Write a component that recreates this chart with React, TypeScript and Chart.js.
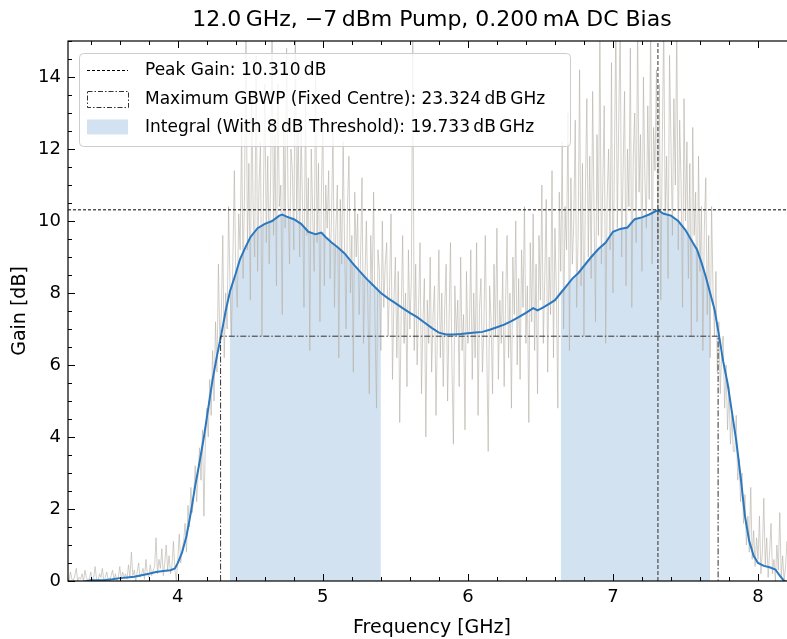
import React, { useEffect, useRef } from 'react';
import { Chart, registerables } from 'chart.js';

Chart.register(...registerables);

// ---------- data ----------
const X_MIN = 3.243;
const X_MAX = 8.262;
const Y_MIN = 0;
const Y_MAX = 15;

// raw (noisy) measured gain, uniform sweep
const RAW_START = 3.24;
const RAW_STEP = 0.01;
const rawGain = [
  // 3.24
  0.1, 0.0, 0.25, 0.05, 0.0, 0.15, 0.35, 0.0, 0.1, 0.05, 0.2, 0.0, 0.3, 0.1, 0.0, 0.05, 0.25, 0.0, 0.1, 0.4,
  // 3.44
  0.05, 0.0, 0.2, 0.1, 0.35, 0.0, 0.1, 0.25, 0.05, 0.0, 0.15, 0.3, 0.05, 0.2, 0.0, 0.1, 0.4, 0.05, 0.25, 0.1,
  // 3.64
  0.2, 0.05, 0.45, 0.1, 0.8, 0.15, 0.3, 0.0, 0.25, 0.5, 0.1, 0.2, 0.35, 0.05, 0.6, 0.2, 0.1, 0.45, 0.15, 0.3,
  // 3.84
  0.4, 1.2, 0.2, 0.6, 0.35, 0.9, 0.15, 0.5, 1.0, 0.3, 0.7, 0.2, 0.45, 1.1, 0.3, 0.0, 0.6, 1.3, 0.5, 0.9,
  // 4.04
  1.1, 1.6, 0.8, 2.1, 1.5, 2.6, 1.9, 2.4, 3.2, 2.2, 3.0, 3.7, 2.8, 4.2, 1.8, 3.9, 4.8, 4.0, 5.6, 4.6,
  // 4.24
  6.4, 5.0, 7.2, 5.8, 8.8, 6.6, 7.4, 9.6, 6.2, 8.0, 7.0, 10.4, 8.2, 6.8, 9.0, 11.4, 8.4, 7.6, 10.2, 9.2,
  // 4.44
  12.6, 8.4, 10.8, 15.5, 9.2, 11.6, 7.8, 13.4, 10.2, 9.0, 14.6, 8.6, 11.0, 12.2, 6.8, 10.6, 13.8, 9.4, 11.8, 8.8,
  // 4.64
  11.2, 15.5, 9.6, 12.4, 8.2, 13.8, 10.4, 11.0, 7.4, 12.8, 9.8, 14.8, 10.6, 8.8, 12.0, 11.4, 9.2, 15.5, 10.0, 12.6,
  // 4.84
  9.0, 12.6, 10.4, 7.6, 13.4, 9.6, 11.2, 6.4, 12.0, 10.2, 8.6, 14.2, 9.4, 11.6, 7.2, 10.8, 12.8, 8.2, 11.0, 9.8,
  // 5.04
  11.4, 8.4, 10.2, 12.6, 7.6, 9.8, 11.0, 6.2, 10.6, 8.8, 12.2, 9.2, 7.0, 10.4, 11.8, 8.0, 9.6, 5.8, 10.8, 9.0,
  // 5.24
  10.2, 7.4, 9.0, 11.2, 6.6, 8.4, 10.0, 7.8, 5.2, 9.6, 8.2, 10.8, 7.0, 4.8, 9.2, 8.6, 6.4, 10.0, 7.6, 8.8,
  // 5.44
  9.4, 6.8, 8.2, 10.2, 5.6, 7.8, 9.0, 6.2, 8.6, 4.4, 7.4, 9.6, 6.6, 8.0, 5.4, 9.2, 7.0, 8.4, 15.2, 6.4,
  // 5.64
  8.8, 6.0, 7.6, 9.4, 5.2, 7.2, 8.4, 4.0, 7.8, 6.6, 9.0, 5.8, 7.4, 8.2, 4.6, 7.0, 9.2, 6.2, 8.0, 5.4,
  // 5.84
  7.6, 8.8, 5.0, 7.2, 9.4, 6.0, 3.8, 8.2, 6.8, 7.8, 5.4, 9.0, 6.4, 7.4, 4.2, 8.6, 6.6, 7.0, 9.2, 5.6,
  // 6.04
  8.0, 6.2, 9.4, 4.6, 7.6, 8.4, 5.8, 7.0, 9.6, 6.4, 3.6, 8.2, 7.2, 5.2, 8.8, 6.8, 9.8, 5.6, 7.8, 6.6,
  // 6.24
  8.6, 5.4, 7.8, 9.6, 6.2, 8.0, 4.8, 9.0, 7.4, 10.0, 6.0, 8.4, 5.6, 9.2, 7.6, 10.4, 6.6, 8.2, 4.4, 9.4,
  // 6.44
  7.2, 10.2, 6.4, 8.8, 5.2, 9.6, 7.8, 11.0, 6.6, 8.4, 10.6, 5.8, 9.0, 7.4, 11.4, 6.2, 9.8, 8.0, 4.8, 10.8,
  // 6.64
  8.6, 12.2, 7.0, 10.4, 9.2, 13.0, 6.4, 11.2, 8.8, 10.0, 12.8, 7.6, 9.6, 14.2, 8.2, 11.6, 6.8, 10.8, 13.4, 9.0,
  // 6.84
  11.8, 8.4, 13.6, 10.2, 7.2, 12.4, 9.6, 15.5, 8.8, 11.0, 13.2, 6.6, 10.6, 12.0, 9.2, 14.4, 8.0, 11.6, 15.5, 9.8,
  // 7.04
  12.8, 15.5, 9.0, 11.4, 13.6, 8.2, 12.0, 10.4, 14.8, 7.6, 11.8, 13.0, 9.4, 15.5, 10.8, 12.4, 8.6, 14.0, 11.2, 9.8,
  // 7.24
  13.2, 10.6, 15.5, 8.8, 12.6, 11.4, 14.2, 9.4, 13.8, 7.8, 12.0, 15.5, 10.2, 11.8, 8.4, 14.6, 12.2, 9.6, 13.4, 11.0,
  // 7.44
  15.5, 9.2, 12.8, 11.0, 7.6, 13.4, 10.0, 12.2, 8.4, 11.6, 6.8, 12.6, 9.6, 10.8, 7.2, 11.8, 8.6, 10.4, 6.4, 9.8,
  // 7.64
  11.2, 7.4, 9.6, 6.2, 10.4, 8.0, 6.8, 8.6, 5.8, 7.2, 5.2, 6.4, 6.8, 4.8, 6.0, 4.2, 5.4, 3.8, 4.6, 3.6,
  // 7.84
  3.6, 4.6, 2.8, 3.4, 2.2, 3.0, 1.6, 2.4, 1.0, 1.8, 0.8, 2.6, 0.6, 1.4, 0.4, 1.2, 0.6, 1.8, 0.2, 0.8,
  // 8.04
  2.3, 0.4, 1.2, 0.1, 0.8, 1.6, 0.2, 0.6, 0.0, 1.0, 0.3, 1.9, 0.1, 0.7, 0.0, 0.4, 1.1, 0.0, 0.5, 0.2,
  // 8.24
  0.6, 0.0, 0.3,
];

// smoothed gain
const smoothFreq = [
  3.24, 3.35, 3.4, 3.45, 3.5, 3.55, 3.6, 3.65, 3.7, 3.75, 3.8, 3.85, 3.9, 3.95, 3.98,
  4.0, 4.03, 4.06, 4.09, 4.12, 4.15, 4.18, 4.21, 4.24, 4.27, 4.3, 4.33, 4.36, 4.4, 4.43,
  4.47, 4.5, 4.55, 4.6, 4.65, 4.7, 4.72, 4.75, 4.8, 4.85, 4.9, 4.95, 4.99, 5.02, 5.06,
  5.1, 5.15, 5.2, 5.25, 5.3, 5.35, 5.4, 5.45, 5.5, 5.55, 5.6, 5.65, 5.7, 5.75, 5.8,
  5.85, 5.9, 5.95, 6.0, 6.05, 6.1, 6.15, 6.2, 6.25, 6.3, 6.35, 6.4, 6.45, 6.48, 6.52,
  6.56, 6.6, 6.64, 6.68, 6.72, 6.76, 6.8, 6.85, 6.9, 6.95, 7.0, 7.05, 7.1, 7.15, 7.2,
  7.25, 7.31, 7.35, 7.4, 7.45, 7.5, 7.55, 7.58, 7.61, 7.64, 7.67, 7.7, 7.73, 7.76, 7.79,
  7.82, 7.85, 7.88, 7.91, 7.94, 7.97, 8.0, 8.04, 8.08, 8.12, 8.15, 8.18, 8.22, 8.26,
];
const smoothGain = [
  -0.1, -0.02, 0.02, 0.02, 0.03, 0.05, 0.08, 0.1, 0.12, 0.16, 0.2, 0.25, 0.28, 0.3, 0.35,
  0.5, 0.8, 1.25, 1.9, 2.65, 3.3, 4.0, 4.8, 5.6, 6.25, 6.85, 7.5, 8.05, 8.55, 8.95,
  9.3, 9.55, 9.8, 9.92, 10.0, 10.15, 10.18, 10.12, 10.05, 9.92, 9.7, 9.63, 9.68, 9.55, 9.4,
  9.28, 9.1, 8.85, 8.62, 8.4, 8.2, 8.0, 7.85, 7.72, 7.58, 7.45, 7.33, 7.18, 7.03, 6.9,
  6.85, 6.85, 6.86, 6.88, 6.9, 6.92, 6.98, 7.05, 7.12, 7.22, 7.33, 7.45, 7.58, 7.52, 7.6,
  7.7, 7.8, 8.0, 8.2, 8.4, 8.55, 8.75, 9.0, 9.22, 9.4, 9.7, 9.78, 9.82, 10.05, 10.1,
  10.18, 10.3, 10.2, 10.15, 10.0, 9.75, 9.4, 9.2, 8.85, 8.45, 8.0, 7.55, 6.85, 6.1, 5.5,
  4.7, 3.9, 2.9, 1.8, 1.1, 0.7, 0.5, 0.42, 0.38, 0.32, 0.15, 0.0, -0.05, -0.08,
];

const PEAK_GAIN = 10.31;
const PEAK_FREQ = 7.31;
const GBWP_LOW = 4.295;
const GBWP_HIGH = 7.725;
const GBWP_LEVEL = 6.8;
const THRESHOLD = 8;

const TITLE = '12.0\u2009GHz, \u22127\u2009dBm Pump, 0.200\u2009mA DC Bias';
const X_LABEL = 'Frequency [GHz]';
const Y_LABEL = 'Gain [dB]';
const LEGEND_LABELS = [
  'Peak Gain: 10.310\u2009dB',
  'Maximum GBWP (Fixed Centre): 23.324\u2009dB\u2009GHz',
  'Integral (With 8\u2009dB Threshold): 19.733\u2009dB\u2009GHz',
];

// ---------- styles ----------
const FONT = '"DejaVu Sans", sans-serif';
const BLUE = '#2b78c0';
const FILL = '#d3e2f1';
const GRAY = 'rgba(182,177,168,0.62)';

function fillSegments() {
  const segs: { x: number; y: number }[][] = [];
  let cur: { x: number; y: number }[] = [];
  smoothFreq.forEach((f, i) => {
    if (smoothGain[i] >= THRESHOLD) {
      cur.push({ x: f, y: smoothGain[i] });
    } else if (cur.length) {
      segs.push(cur);
      cur = [];
    }
  });
  if (cur.length) segs.push(cur);
  return segs;
}

const decorPlugin = {
  id: 'decor',
  afterDraw(chart: any) {
    const { ctx, chartArea: ca, scales } = chart;
    const xs = scales.x;
    const ys = scales.y;
    ctx.save();
    // spines
    ctx.strokeStyle = '#000';
    ctx.lineWidth = 1.2;
    ctx.strokeRect(ca.left, ca.top, ca.right - ca.left, ca.bottom - ca.top);
    // ticks (inward)
    ctx.lineWidth = 1;
    const drawX = (v: number, len: number) => {
      const p = Math.round(xs.getPixelForValue(v)) + 0.5;
      ctx.beginPath();
      ctx.moveTo(p, ca.bottom);
      ctx.lineTo(p, ca.bottom - len);
      ctx.moveTo(p, ca.top);
      ctx.lineTo(p, ca.top + len);
      ctx.stroke();
    };
    const drawY = (v: number, len: number) => {
      const p = Math.round(ys.getPixelForValue(v)) + 0.5;
      ctx.beginPath();
      ctx.moveTo(ca.left, p);
      ctx.lineTo(ca.left + len, p);
      ctx.moveTo(ca.right, p);
      ctx.lineTo(ca.right - len, p);
      ctx.stroke();
    };
    for (let k = Math.ceil(X_MIN * 5); k <= Math.floor(X_MAX * 5); k++) {
      drawX(k / 5, k % 5 === 0 ? 7 : 4);
    }
    for (let k = Math.ceil(Y_MIN * 2); k <= Math.floor(Y_MAX * 2); k++) {
      drawY(k / 2, k % 4 === 0 ? 7 : 4);
    }
    // legend
    const bx = 79.5, by = 53.5, bw = 491, bh = 93, r = 4;
    ctx.beginPath();
    ctx.moveTo(bx + r, by);
    ctx.lineTo(bx + bw - r, by);
    ctx.arcTo(bx + bw, by, bx + bw, by + r, r);
    ctx.lineTo(bx + bw, by + bh - r);
    ctx.arcTo(bx + bw, by + bh, bx + bw - r, by + bh, r);
    ctx.lineTo(bx + r, by + bh);
    ctx.arcTo(bx, by + bh, bx, by + bh - r, r);
    ctx.lineTo(bx, by + r);
    ctx.arcTo(bx, by, bx + r, by, r);
    ctx.closePath();
    ctx.fillStyle = 'rgba(255,255,255,0.8)';
    ctx.fill();
    ctx.strokeStyle = '#cccccc';
    ctx.lineWidth = 1;
    ctx.stroke();

    const rows = [70, 99, 127];
    const h0 = 87, h1 = 128;
    ctx.strokeStyle = '#000';
    ctx.setLineDash([3, 2]);
    ctx.beginPath();
    ctx.moveTo(h0, rows[0] + 0.5);
    ctx.lineTo(h1, rows[0] + 0.5);
    ctx.stroke();
    ctx.setLineDash([5, 2, 1.5, 2]);
    ctx.strokeStyle = '#333';
    ctx.strokeRect(h0 + 0.5, rows[1] - 8 + 0.5, h1 - h0, 16);
    ctx.setLineDash([]);
    ctx.fillStyle = FILL;
    ctx.fillRect(h0, rows[2] - 7.5, h1 - h0, 15);

    ctx.fillStyle = '#000';
    ctx.font = `17px ${FONT}`;
    ctx.textBaseline = 'middle';
    ctx.textAlign = 'left';
    LEGEND_LABELS.forEach((t, i) => ctx.fillText(t, 145, rows[i] + 1));
    ctx.restore();
  },
};

export default function App() {
  const ref = useRef<HTMLCanvasElement>(null);
  useEffect(() => {
    const canvas = ref.current!;
    const segs = fillSegments();
    const datasets: any[] = [];
    segs.forEach((s) => {
      datasets.push({
        data: s,
        fill: 'origin',
        backgroundColor: FILL,
        borderWidth: 0,
        pointRadius: 0,
        order: 5,
      });
    });
    datasets.push({
      data: rawGain.map((g, i) => ({ x: RAW_START + i * RAW_STEP, y: g })),
      borderColor: GRAY,
      borderWidth: 1,
      pointRadius: 0,
      fill: false,
      order: 4,
    });
    datasets.push({
      data: smoothFreq.map((f, i) => ({ x: f, y: smoothGain[i] })),
      borderColor: BLUE,
      borderWidth: 2,
      pointRadius: 0,
      fill: false,
      order: 3,
    });
    datasets.push({
      data: [
        { x: GBWP_LOW, y: Y_MIN },
        { x: GBWP_LOW, y: GBWP_LEVEL },
        { x: GBWP_HIGH, y: GBWP_LEVEL },
        { x: GBWP_HIGH, y: Y_MIN },
      ],
      borderColor: '#333',
      borderWidth: 1,
      borderDash: [6, 2, 1.5, 2],
      pointRadius: 0,
      fill: false,
      order: 2,
    });
    datasets.push({
      data: [
        { x: X_MIN, y: PEAK_GAIN },
        { x: X_MAX, y: PEAK_GAIN },
      ],
      borderColor: '#000',
      borderWidth: 1,
      borderDash: [3, 2],
      pointRadius: 0,
      fill: false,
      order: 1,
    });
    datasets.push({
      data: [
        { x: PEAK_FREQ, y: Y_MIN },
        { x: PEAK_FREQ, y: Y_MAX },
      ],
      borderColor: 'rgba(40,40,40,0.8)',
      borderWidth: 1.2,
      borderDash: [4, 2],
      pointRadius: 0,
      fill: false,
      order: 1,
    });

    const chart = new Chart(canvas, {
      type: 'line',
      data: { datasets },
      options: {
        responsive: false,
        animation: false,
        devicePixelRatio: 1,
        events: [],
        parsing: false as any,
        layout: { padding: { left: 0, right: 4, top: 0, bottom: 0 } },
        plugins: {
          legend: { display: false },
          tooltip: { enabled: false },
          title: {
            display: true,
            text: TITLE,
            color: '#000',
            font: { family: FONT, size: 22, weight: 'normal' as any },
            padding: { top: 7, bottom: 7.6 },
            fullSize: false,
          },
        },
        scales: {
          x: {
            type: 'linear',
            min: X_MIN,
            max: X_MAX,
            grid: { display: false, drawTicks: false },
            border: { display: false },
            ticks: {
              stepSize: 1,
              includeBounds: false,
              autoSkip: false,
              maxRotation: 0,
              color: '#000',
              padding: 6,
              font: { family: FONT, size: 18 },
              callback: (v: any) => String(v),
            },
            title: {
              display: true,
              text: X_LABEL,
              color: '#000',
              font: { family: FONT, size: 19 },
              padding: { top: 0, bottom: 0 },
            },
            afterFit: (s: any) => {
              s.height = 58;
            },
          },
          y: {
            type: 'linear',
            min: Y_MIN,
            max: Y_MAX,
            grid: { display: false, drawTicks: false },
            border: { display: false },
            ticks: {
              stepSize: 2,
              includeBounds: false,
              color: '#000',
              padding: 7,
              font: { family: FONT, size: 18 },
              callback: (v: any) => String(v),
            },
            title: {
              display: true,
              text: Y_LABEL,
              color: '#000',
              font: { family: FONT, size: 19 },
              padding: { top: 9, bottom: 0 },
            },
            afterFit: (s: any) => {
              s.width = 68;
            },
          },
        },
      },
      plugins: [decorPlugin],
    });
    return () => chart.destroy();
  }, []);

  return (
    <div
      style={{
        position: 'fixed',
        left: 0,
        top: 0,
        width: 787,
        height: 639,
        overflow: 'hidden',
        background: '#fff',
      }}
    >
      <canvas ref={ref} width={800} height={639} style={{ display: 'block', width: 800, height: 639 }} />
    </div>
  );
}
